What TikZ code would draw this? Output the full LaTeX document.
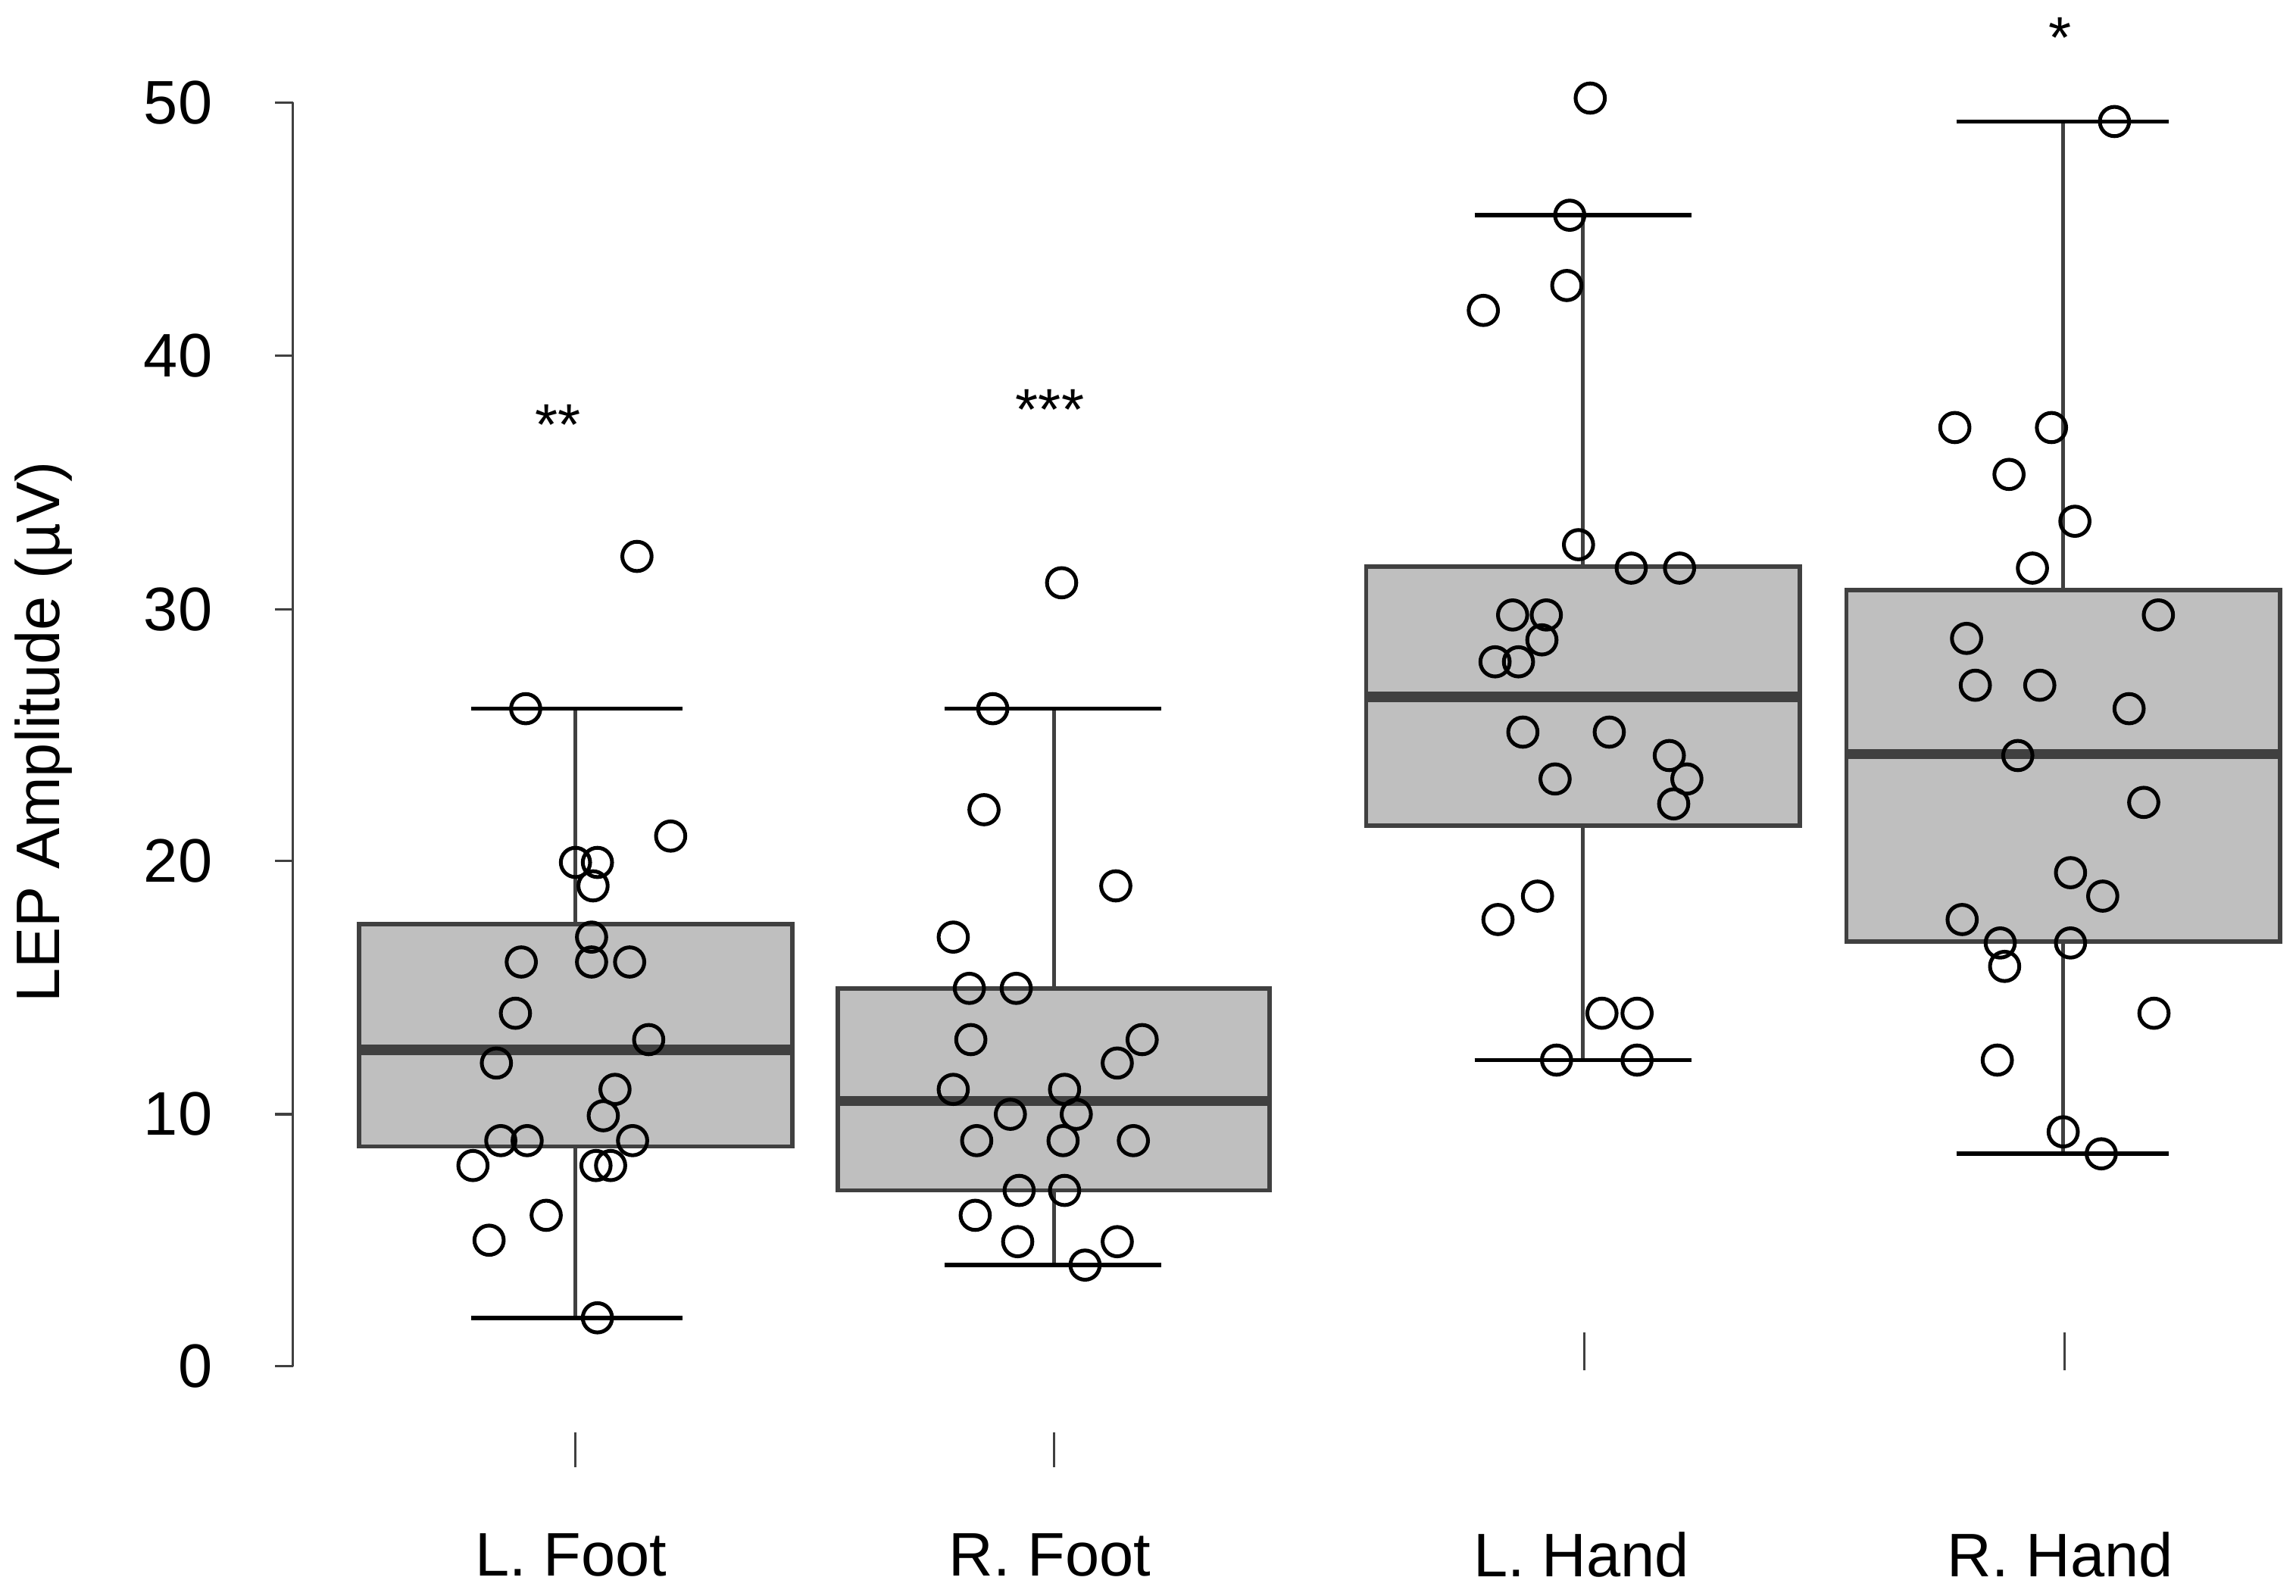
\documentclass[tikz,border=0pt]{standalone}
\usepackage{fontspec}
\setmainfont{Liberation Sans}
\begin{document}
\begin{tikzpicture}[x=0.5pt,y=-0.5pt,
 boxst/.style={draw=black!75,fill=black!25,line width=1.5pt},
 whisk/.style={draw=black!75,line width=1.3pt},
 capst/.style={draw=black,line width=1.5pt},
 med/.style={draw=black!75,line width=3.5pt},
 pt/.style={draw=black,line width=1.3pt},
 lab/.style={font=\fontsize{21}{24}\selectfont},
 stars/.style={font=\fontsize{20}{22}\selectfont}]
\useasboundingbox (0,0) rectangle (1568,1090);
% axis
\draw[black!75,line width=0.8pt] (200,70) -- (200,933);
\foreach \v/\p in {0/933,10/761,20/588,30/416,40/243,50/70}{
  \draw[black!75,line width=0.8pt] (188,\p) -- (200,\p);
  \node[lab,anchor=east] at (152,\p) {\v};
}
\node[lab,rotate=90] at (30,500) {LEP Amplitude (µV)};
% x ticks
\foreach \x in {393,720}{\draw[black!75,line width=0.8pt] (\x,978) -- (\x,1002);}
\foreach \x in {1082,1410}{\draw[black!75,line width=0.8pt] (\x,910) -- (\x,936);}
\node[lab] at (390,1062) {L. Foot};
\node[lab] at (717,1062) {R. Foot};
\node[lab] at (1080,1062) {L. Hand};
\node[lab] at (1407,1062) {R. Hand};
% boxes: left right q3 q1 med lowwhisk upwhisk capL capR center
\foreach \l/\r/\qt/\qb/\m/\wl/\wu/\cl/\cr/\c in {
 245/541/631/783/717/900/484/322/466/393,
 572/867/675/813/752/864/484/645/793/720,
 933/1229/387/564/476/724/147/1007/1155/1081,
 1261/1557/403/643/515/788/83/1336/1481/1409}{
  \draw[whisk] (\c,\wl) -- (\c,\wu);
  \draw[capst] (\cl,\wl) -- (\cr,\wl);
  \draw[capst] (\cl,\wu) -- (\cr,\wu);
  \draw[boxst] (\l,\qt) rectangle (\r,\qb);
  \draw[med] (\l,\m) -- (\r,\m);
}
% points
\foreach \p in {(435,380),(359,484),(393,589),(408,589),(405,605),(458,571),(404,640),(356,657),(404,657),(430,657),(352,692),(443,710),(339,726),(420,744),(412,762),(342,779),(360,779),(432,779),(323,796),(407,796),(417,796),(373,830),(334,847),(408,900),
(725,398),(678,484),(672,553),(762,605),(651,640),(662,675),(694,675),(663,710),(780,710),(763,726),(651,744),(727,744),(690,761),(735,761),(667,779),(726,779),(774,779),(696,813),(727,813),(666,830),(695,848),(763,848),(741,864),
(1086,67),(1072,147),(1070,195),(1013,212),(1078,372),(1114,388),(1147,388),(1033,420),(1056,420),(1053,437),(1021,452),(1037,452),(1040,500),(1099,500),(1140,516),(1152,532),(1062,532),(1143,549),(1050,612),(1023,628),(1094,692),(1118,692),(1063,724),(1118,724),
(1444,83),(1335,292),(1401,292),(1372,324),(1417,356),(1388,388),(1474,420),(1343,436),(1349,468),(1393,468),(1454,484),(1378,516),(1464,548),(1414,596),(1436,612),(1340,628),(1366,644),(1414,644),(1369,660),(1471,692),(1364,724),(1409,773),(1435,788)}{
  \draw[pt] \p circle[radius=5pt];
}
\node[stars] at (381,290) {**};
\node[stars] at (717,280) {***};
\node[stars] at (1407,26) {*};
\end{tikzpicture}
\end{document}
